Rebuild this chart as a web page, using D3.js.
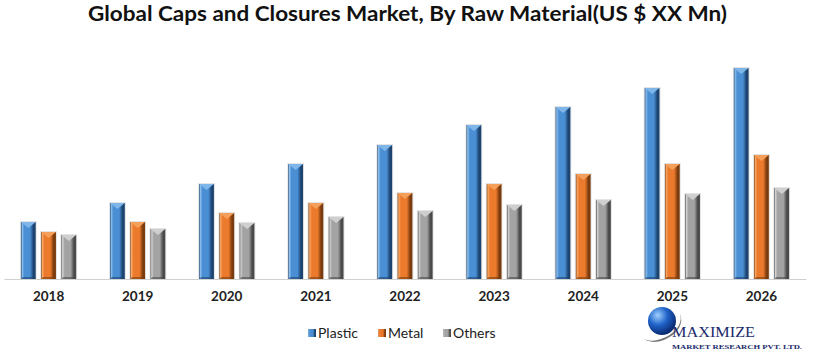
<!DOCTYPE html>
<html><head><meta charset="utf-8">
<script src="https://cdn.jsdelivr.net/npm/d3@7"></script>
<style>body{margin:0;background:#fff}svg{display:block}</style>
</head><body>
<script>
const years = ["2018","2019","2020","2021","2022","2023","2024","2025","2026"];
const seriesNames = ["Plastic","Metal","Others"];
const plastic = [57, 76, 95, 115, 134, 154, 172, 191, 211];
const metal = [47, 57, 66, 76, 86, 95, 105, 115, 124];
const others = [44, 50, 56, 62, 68, 74, 79, 85, 91];
const seriesValues = [plastic, metal, others];
const title = "Global Caps and Closures Market, By Raw Material(US $ XX Mn)";

const W = 820, H = 350;
const svg = d3.select("body").append("svg").attr("width", W).attr("height", H);
const defs = svg.append("defs");
const pal = {
  Plastic: {light:"#8ec0ee", main:"#4a8fd4", dark:"#1d4470", cap:"#7fb6ea"},
  Metal:   {light:"#f7a868", main:"#ec7a2c", dark:"#7a3c0e", cap:"#f5a05a"},
  Others:  {light:"#d2d2d2", main:"#a3a3a3", dark:"#4a4a4a", cap:"#cfcfcf"}
};
seriesNames.forEach(s => {
  const g = defs.append("linearGradient").attr("id","g"+s).attr("x1",0).attr("x2",1).attr("y1",0).attr("y2",0);
  const c = pal[s];
  [[0,c.dark],[0.08,c.light],[0.22,c.main],[0.62,c.main],[0.85,c.dark],[1,c.dark]]
    .forEach(([o,col]) => g.append("stop").attr("offset",o).attr("stop-color",col));
});
const rg = defs.append("radialGradient").attr("id","globe").attr("cx","35%").attr("cy","30%").attr("r","70%");
rg.append("stop").attr("offset",0).attr("stop-color","#9fd0ff");
rg.append("stop").attr("offset",0.5).attr("stop-color","#1f63c9");
rg.append("stop").attr("offset",1).attr("stop-color","#0a2a72");

const x0 = d3.scaleBand().domain(years).range([4, 806]).paddingInner(0.38).paddingOuter(0.19);
const x1 = d3.scaleBand().domain(seriesNames).range([0, x0.bandwidth()]).paddingInner(0.27);
const y = d3.scaleLinear().domain([0, 220]).range([279, 59]);

// axis
const xAxis = d3.axisBottom(x0).tickSize(0).tickPadding(12);
const ax = svg.append("g").attr("transform","translate(0,279)").call(xAxis);
ax.select(".domain").attr("stroke","#d0d0d0").attr("stroke-width",1.2);
ax.selectAll("text").attr("font-family","Lato, 'Open Sans', sans-serif").attr("font-weight","bold")
  .attr("font-size",13.5).attr("fill","#222");

// bars
const groups = svg.append("g").selectAll("g").data(years).join("g")
  .attr("transform", d => `translate(${x0(d)},0)`);
groups.each(function(yr, i) {
  const g = d3.select(this);
  seriesNames.forEach((s, k) => {
    const v = seriesValues[k][i];
    const bx = x1(s), bw = x1.bandwidth(), top = y(v), h = y(0) - y(v);
    g.append("rect").attr("x", bx - 1).attr("y", top - 1).attr("width", bw + 2).attr("height", h + 1)
      .attr("fill", "#e4e4e4");
    g.append("rect").attr("x", bx).attr("y", top).attr("width", bw).attr("height", h)
      .attr("fill", `url(#g${s})`);
    g.append("path")
      .attr("d", `M${bx},${top} L${bx+bw},${top} L${bx+bw/2},${top+6} Z`)
      .attr("fill", pal[s].cap);
    g.append("path")
      .attr("d", `M${bx},${y(0)} L${bx+bw},${y(0)} L${bx+bw-2},${y(0)-2} L${bx+2},${y(0)-2} Z`)
      .attr("fill", pal[s].dark).attr("opacity",0.6);
  });
});

// title
svg.append("text").attr("x", 88).attr("y", 21)
  .attr("font-family","Lato, 'Open Sans', sans-serif").attr("font-weight","bold")
  .attr("font-size",21).attr("fill","#111").attr("textLength",639).attr("lengthAdjust","spacingAndGlyphs").text(title);

// legend
const legX = [308, 378, 443];
const leg = svg.append("g");
seriesNames.forEach((s, k) => {
  leg.append("rect").attr("x", legX[k]).attr("y", 329).attr("width", 8).attr("height", 8)
    .attr("fill", `url(#g${s})`);
  leg.append("text").attr("x", legX[k] + 10).attr("y", 338)
    .attr("font-family","Lato, 'Open Sans', sans-serif").attr("font-size",14).attr("fill","#222").text(s);
});

// logo
const logo = svg.append("g");
logo.append("path").attr("d","M642,337 Q650,345 668,336 Q684,326 680,312 Q686,330 664,340 Q650,345 642,337 Z")
  .attr("fill","#777");
logo.append("circle").attr("cx",662).attr("cy",321).attr("r",14).attr("fill","url(#globe)");
logo.append("text").attr("x",672).attr("y",337).attr("font-family","'Liberation Serif', 'DejaVu Serif', serif")
  .attr("font-size",14).attr("fill","#1b2a6b").attr("textLength",83).attr("lengthAdjust","spacingAndGlyphs").text("MAXIMIZE");
logo.append("text").attr("x",672).attr("y",348.5).attr("font-family","'Liberation Serif', 'DejaVu Serif', serif")
  .attr("font-weight","bold").attr("font-size",7).attr("fill","#1b2a6b").attr("textLength",130).attr("lengthAdjust","spacingAndGlyphs").text("MARKET RESEARCH PVT. LTD.");
</script>
</body></html>
